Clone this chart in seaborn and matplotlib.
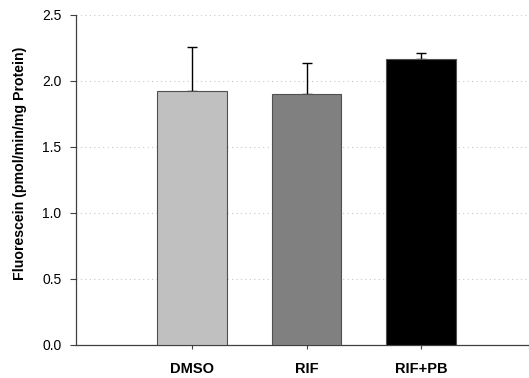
import matplotlib
matplotlib.use("Agg")
import matplotlib.pyplot as plt
import seaborn as sns
import pandas as pd
import numpy as np

categories = ["DMSO", "RIF", "RIF+PB"]
means = [1.922, 1.905, 2.163]
upper_err = [0.333, 0.229, 0.052]
bar_colors = ["#c0c0c0", "#808080", "#000000"]

sns.set_style("white")
plt.rcParams["font.family"] = ["Liberation Sans", "DejaVu Sans"]
plt.rcParams["text.color"] = "black"
plt.rcParams["xtick.color"] = "black"
plt.rcParams["ytick.color"] = "black"
plt.rcParams["axes.labelcolor"] = "black"

df = pd.DataFrame({"group": categories, "value": means})

fig = plt.figure(figsize=(5.29, 3.78), dpi=100)
ax = fig.add_axes([76/529, 33/378, 453/529, 330/378])

sns.barplot(data=df, x="group", y="value", hue="group", palette=bar_colors,
            order=categories, hue_order=categories, legend=False,
            width=0.61, edgecolor="#505050", linewidth=0.8, errorbar=None,
            ax=ax, zorder=3)

x = np.arange(len(categories))
ax.errorbar(x, means, yerr=[np.zeros(len(means)), upper_err], fmt="none",
            ecolor="black", elinewidth=1.0, capsize=3.8, capthick=1.0, zorder=2)

ax.set_ylim(0, 2.5)
ax.set_xlim(-1.01, 2.94)
ax.set_yticks([0.0, 0.5, 1.0, 1.5, 2.0, 2.5])
ax.set_yticklabels(["0.0", "0.5", "1.0", "1.5", "2.0", "2.5"], fontsize=10)
ax.set_xticks(x)
ax.set_xticklabels(categories, fontsize=10.5, fontweight="bold")

ax.yaxis.grid(True, linestyle=(0, (1, 3)), color="#c8c8c8", linewidth=0.8, zorder=0)
ax.set_axisbelow(True)

ax.set_xlabel("")
ax.set_ylabel("Fluorescein (pmol/min/mg Protein)", fontsize=10.2, fontweight="bold")
ax.yaxis.set_label_coords(-0.108, 0.551)

for s in ["top", "right"]:
    ax.spines[s].set_visible(False)
for s in ["left", "bottom"]:
    ax.spines[s].set_color("#404040")
    ax.spines[s].set_linewidth(0.9)

ax.tick_params(axis="y", which="major", left=True, length=4, width=0.8, color="#404040", pad=6.5)
ax.tick_params(axis="x", which="major", bottom=True, length=3, width=0.8, color="#404040", pad=9)

fig.savefig("out.png", dpi=100)
